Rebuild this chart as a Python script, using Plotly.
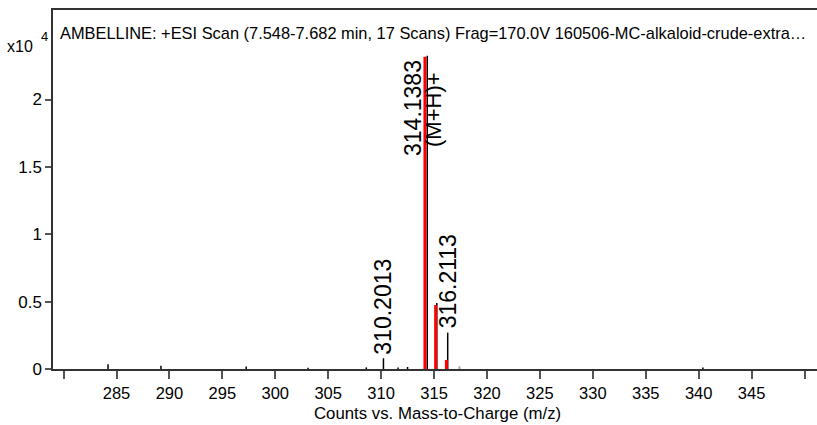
import plotly.graph_objects as go

# ---- data (intensities in units of 10^4 counts) ----
black_mz = [284.2, 289.2, 297.25, 303.1, 308.6, 310.22, 311.6, 312.5, 314.36, 315.26, 316.29, 340.4]
black_h  = [0.035, 0.025, 0.018, 0.01, 0.012, 0.08, 0.012, 0.015, 2.325, 0.49, 0.27, 0.012]
red_mz = [314.14, 315.15, 316.17]
red_h  = [2.317, 0.475, 0.067]
grey_mz = [317.4]
grey_h = [0.02]

label_mz = [310.22, 316.29]
label_h = [0.08, 0.27]
label_text = ["310.2013", "316.2113"]
main_mz = 314.36
main_h = 2.325
main_text = "314.1383"
main_tag = "(M+H)+"

xticks = [280, 285, 290, 295, 300, 305, 310, 315, 320, 325, 330, 335, 340, 345, 350]
xticktext = ["", "285", "290", "295", "300", "305", "310", "315", "320", "325", "330", "335", "340", "345", ""]
yticks = [0, 0.5, 1, 1.5, 2]
yticktext = ["0", "0.5", "1", "1.5", "2"]

title = "AMBELLINE: +ESI Scan (7.548-7.682 min, 17 Scans) Frag=170.0V 160506-MC-alkaloid-crude-extra…"
xtitle = "Counts vs. Mass-to-Charge (m/z)"


def sticks(mz, h):
    xs, ys = [], []
    for m, v in zip(mz, h):
        xs += [m, m, None]
        ys += [0, v, None]
    return xs, ys


REG = "Liberation Sans, Arial, sans-serif"

fig = go.Figure()
gx, gy = sticks(grey_mz, grey_h)
fig.add_trace(go.Scatter(x=gx, y=gy, mode="lines", line=dict(color="#b0a0b0", width=2), hoverinfo="skip"))
bx, by = sticks(black_mz, black_h)
fig.add_trace(go.Scatter(x=bx, y=by, mode="lines", line=dict(color="black", width=1.5), hoverinfo="skip"))
rx, ry = sticks(red_mz, red_h)
fig.add_trace(go.Scatter(x=rx, y=ry, mode="lines", line=dict(color="#ff0000", width=3), hoverinfo="skip"))

ann = []
for m, h, t in zip(label_mz, label_h, label_text):
    ann.append(dict(x=m, y=h, xref="x", yref="y", text=t, textangle=-90, showarrow=False,
                    xanchor="center", yanchor="bottom", yshift=2,
                    font=dict(family=REG, size=23, color="black")))
ann.append(dict(x=main_mz, y=main_h, xref="x", yref="y", text=main_text, textangle=-90, showarrow=False,
                xanchor="right", yanchor="top", xshift=0, yshift=-2,
                font=dict(family=REG, size=23, color="black")))
ann.append(dict(x=main_mz, y=main_h, xref="x", yref="y", text=main_tag, textangle=-90, showarrow=False,
                xanchor="left", yanchor="top", xshift=-9, yshift=-14,
                font=dict(family=REG, size=22, color="black")))
ann.append(dict(x=58, y=33, xref="paper", yref="paper", text=title, showarrow=False,
                xanchor="left", yanchor="middle", font=dict(family=REG, size=16.4, color="black")))
ann.append(dict(text=xtitle, x=437, y=413, showarrow=False, xanchor="center", yanchor="middle",
                font=dict(family=REG, size=16.8, color="black")))
ann.append(dict(text="x10", x=20, y=46, showarrow=False, xanchor="center", yanchor="middle",
                font=dict(family=REG, size=16, color="black")))
ann.append(dict(text="4", x=44, y=37, showarrow=False, xanchor="center", yanchor="middle",
                font=dict(family=REG, size=13, color="black")))

# convert pixel-placed annotations (title, axis title, exponent) to paper coords
W, H = 817, 425
ML, MR, MT, MB = 53, 0, 10, 56
pw, ph = W - ML - MR, H - MT - MB
for a in ann[-4:]:
    a["xref"] = "paper"
    a["yref"] = "paper"
    a["x"] = (a["x"] - ML) / pw
    a["y"] = (H - MB - a["y"]) / ph

fig.update_layout(
    width=W, height=H,
    margin=dict(l=ML, r=MR, t=MT, b=MB),
    plot_bgcolor="white", paper_bgcolor="white",
    showlegend=False,
    annotations=ann,
    xaxis=dict(range=[279, 351.18], tickvals=xticks, ticktext=xticktext,
               ticks="outside", ticklen=8, tickwidth=1.5, tickcolor="#555",
               showline=True, linecolor="#333", linewidth=2, mirror=True,
               showgrid=False, zeroline=False,
               tickfont=dict(family=REG, size=16.5, color="black")),
    yaxis=dict(range=[0, 359 / 134.75], tickvals=yticks, ticktext=yticktext,
               ticks="outside", ticklen=6, tickwidth=1.5, tickcolor="#555",
               showline=True, linecolor="#333", linewidth=1.5,
               showgrid=False, zeroline=False,
               tickfont=dict(family=REG, size=17, color="black")),
)

fig.write_html("out.html")
